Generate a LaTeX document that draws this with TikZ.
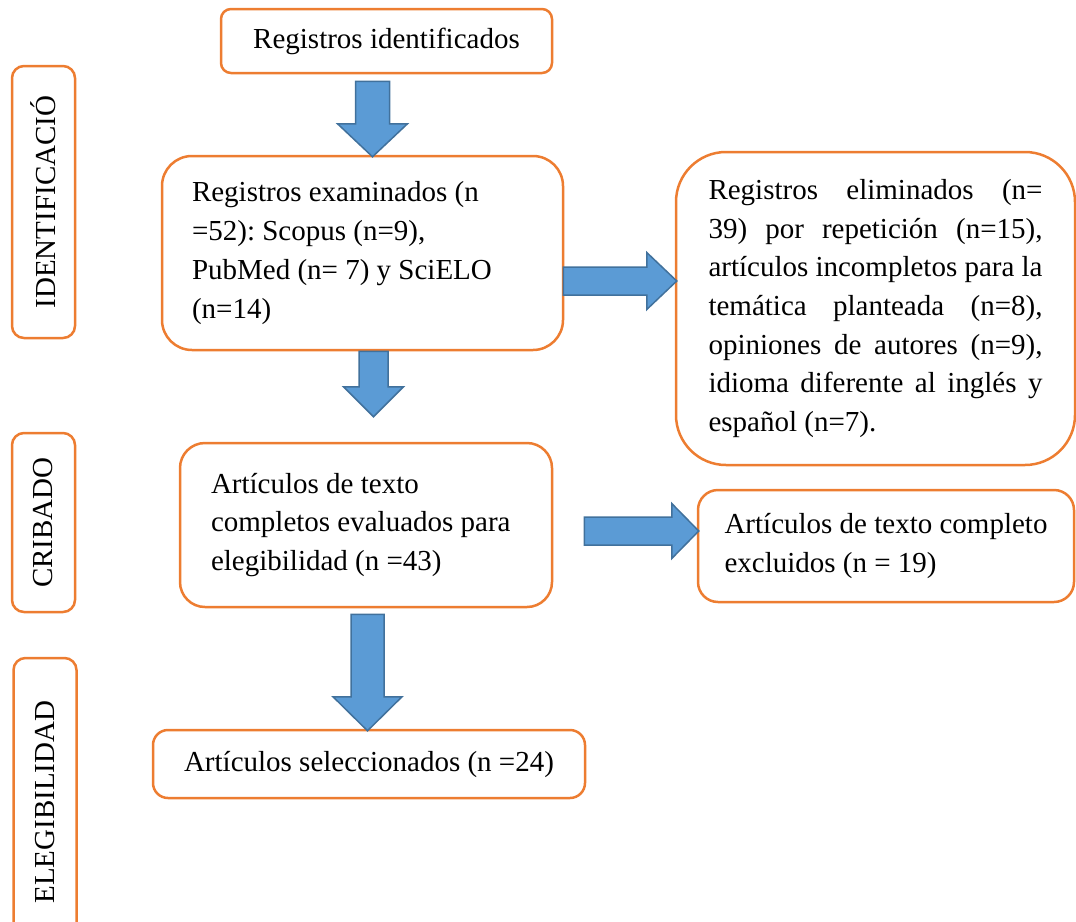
\documentclass[tikz,border=0pt]{standalone}
\usepackage{fontspec}
\setmainfont{Liberation Serif}
\usetikzlibrary{calc}

\definecolor{borde}{HTML}{ED7D31}
\definecolor{azul}{HTML}{5B9BD5}
\definecolor{azuloscuro}{HTML}{41719C}

\tikzset{
    caja/.style={draw=borde, line width=2.5pt, fill=white, inner ysep=0pt,
        font=\fontsize{29}{38.7}\selectfont\frenchspacing},
    fase/.style={caja, rotate=90, rounded corners=12pt, minimum height=63pt},
    flecha/.style={draw=azuloscuro, fill=azul, line width=1.5pt},
    % flecha ancha hacia abajo: {medio ancho} {medio ancho punta} {largo punta}
    bajar/.style n args={3}{flecha, to path={let \p1=(\tikztostart), \p2=(\tikztotarget) in
        (\x1-#1,\y1) -- (\x1-#1,\y2+#3) -- (\x1-#2,\y2+#3) -- (\x1,\y2)
        -- (\x1+#2,\y2+#3) -- (\x1+#1,\y2+#3) -- (\x1+#1,\y1) -- cycle}},
    % flecha ancha hacia la derecha
    derecha/.style n args={3}{flecha, to path={let \p1=(\tikztostart), \p2=(\tikztotarget) in
        (\x1,\y1+#1) -- (\x2-#3,\y1+#1) -- (\x2-#3,\y1+#2) -- (\x2,\y1)
        -- (\x2-#3,\y1-#2) -- (\x2-#3,\y1-#1) -- (\x1,\y1-#1) -- cycle}}
}

\begin{document}
\begin{tikzpicture}[x=1pt, y=-1pt]
    \useasboundingbox (0,0) rectangle (1076,921);
    \clip (0,0) rectangle (1076,921);

    % fases
    \node(fase1) [fase, minimum width=272pt] at (43.5,202) {IDENTIFICACIÓ};
    \node(fase2) [fase, minimum width=179pt] at (43.5,522.5) {CRIBADO};
    \node(fase3) [fase, minimum width=288pt] at (45,802) {ELEGIBILIDAD};

    % cajas
    \node(ident) [caja, rounded corners=10pt, minimum width=331pt, minimum height=64pt]
        at (386.5,41) {Registros identificados};
    \node(exam) [caja, rounded corners=30pt, minimum width=401pt, minimum height=194pt,
        text width=341pt, inner xsep=30pt, align=flush left] at (362.5,253)
        {Registros examinados (n\\ =52): Scopus (n=9),\\ PubMed (n= 7) y SciELO\\ (n=14)};
    \node(elim) [caja, rounded corners=50pt, minimum width=399pt, minimum height=313pt,
        text width=334pt, inner xsep=32.5pt, align=justify] at (875.5,308.5)
        {\tolerance=10000\hyphenpenalty=10000
         Registros eliminados (n=\linebreak 39) por repetición (n=15),\linebreak
         artículos incompletos para la\linebreak temática planteada (n=8),\linebreak
         opiniones de autores (n=9),\linebreak idioma diferente al inglés y\linebreak
         español (n=7).};
    \node(eval) [caja, rounded corners=25pt, minimum width=372pt, minimum height=164pt,
        text width=310pt, inner xsep=31pt, align=flush left] at (366,525)
        {Artículos de texto\\ completos evaluados para\\ elegibilidad (n =43)};
    \node(excl) [caja, rounded corners=20pt, minimum width=376pt, minimum height=112pt,
        align=left] at (886,546)
        {Artículos de texto completo\\ excluidos (n = 19)};
    \node(sel) [caja, rounded corners=15pt, minimum width=432pt, minimum height=68pt]
        at (369,764) {Artículos seleccionados (n =24)};

    % flechas
    \draw [bajar={17pt}{35pt}{33pt}] ([xshift=-14pt, yshift=-7pt]ident.south) to ([yshift=-2pt]exam.north);
    \draw [bajar={14.5pt}{30pt}{30pt}] ([xshift=11pt]exam.south) to ([yshift=25pt]eval.north);
    \draw [derecha={14pt}{28.5pt}{30pt}] ([xshift=-1pt, yshift=-28pt]exam.east) to ([xshift=2pt]elim.west);
    \draw [derecha={14pt}{27.5pt}{27pt}] ([xshift=31pt, yshift=-6pt]eval.east) to ([xshift=2pt]excl.west);
    \draw [bajar={16.5pt}{34.5pt}{34pt}] ([xshift=1.5pt, yshift=-6pt]eval.south) to ([yshift=-2pt]sel.north);
\end{tikzpicture}
\end{document}
